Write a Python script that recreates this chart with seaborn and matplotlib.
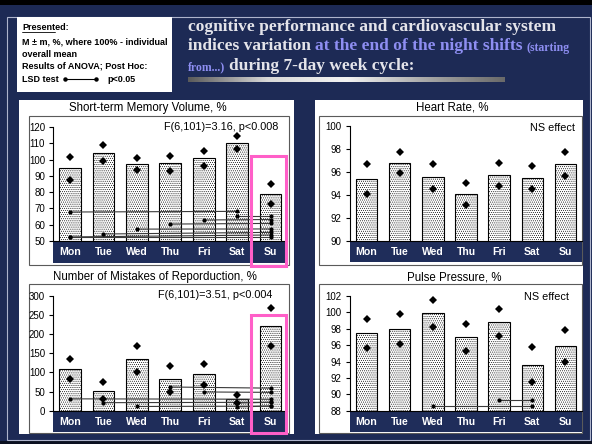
import numpy as np
import pandas as pd
import matplotlib
matplotlib.use("Agg")
import matplotlib.pyplot as plt
import seaborn as sns
from matplotlib.patches import Rectangle
from matplotlib.colors import LinearSegmentedColormap

# ---- data -------------------------------------------------------------
days = ["Mon", "Tue", "Wed", "Thu", "Fri", "Sat", "Su"]

memory_mean = [94.8, 104.0, 97.2, 97.8, 100.7, 110.2, 78.7]
memory_upper = [101.5, 109.1, 100.9, 101.9, 105.4, 114.3, 85.1]
memory_lower = [87.6, 98.9, 93.7, 93.1, 96.2, 106.7, 72.6]
# LSD-significant pairs: (day_from, value_from, day_to, value_to)
memory_lsd = [(0, 67.8, 5, 68.2), (5, 65.3, 6, 65.3), (4, 62.9, 6, 63.2),
              (3, 60.4, 6, 60.8), (2, 57.3, 6, 57.4), (1, 54.3, 6, 55.3),
              (0, 52.5, 6, 53.7), (0, 52.5, 6, 52.5)]

heart_mean = [95.33, 96.78, 95.54, 94.09, 95.74, 95.48, 96.64]
heart_upper = [96.64, 97.74, 96.64, 95.04, 96.78, 96.46, 97.74]
heart_lower = [94.09, 95.86, 94.49, 93.10, 94.75, 94.46, 95.62]
heart_lsd = []

mistakes_mean = [108, 52, 135, 82, 96, 30, 221]
mistakes_upper = [134, 76, 169, 117, 123, 41, 269]
mistakes_lower = [82, 31, 101, 48, 67, 19, 170]
mistakes_lsd = [(3, 62, 6, 59), (4, 49, 6, 48), (0, 31, 6, 30),
                (1, 21, 6, 22), (2, 11, 6, 12), (5, 10, 6, 12), (5, 20, 6, 22)]

pulse_mean = [97.44, 97.97, 99.88, 96.95, 98.78, 93.58, 95.90]
pulse_upper = [99.15, 99.80, 101.47, 98.58, 100.41, 95.81, 97.85]
pulse_lower = [95.69, 96.14, 98.26, 95.33, 97.16, 91.46, 93.90]
pulse_lsd = [(2, 88.6, 5, 88.6), (4, 89.3, 5, 89.3)]

# ---- style ------------------------------------------------------------
NAVY = "#1d2a55"
BAND = "#1f2d5a"
PINK = "#ff5fc8"
WHITE_TXT = "#e4e4ea"
BLUE_TXT = "#8e8ef2"

sns.set_theme(style="white")
plt.rcParams["font.family"] = ["Liberation Sans", "DejaVu Sans"]
plt.rcParams["hatch.color"] = "#959595"
plt.rcParams["hatch.linewidth"] = 0.4

W, H = 592, 444
fig = plt.figure(figsize=(W / 100, H / 100), dpi=100, facecolor=NAVY)

# background layer in pixel coordinates
bg = fig.add_axes([0, 0, 1, 1], zorder=-1)
bg.set_autoscale_on(False)
bg.set_xlim(0, W)
bg.set_ylim(H, 0)
bg.axis("off")

# overlay layer for highlight boxes
ov = fig.add_axes([0, 0, 1, 1], zorder=10)
ov.set_autoscale_on(False)
ov.set_xlim(0, W)
ov.set_ylim(H, 0)
ov.axis("off")
ov.patch.set_alpha(0)


def box(ax, x0, y0, x1, y1, **kw):
    ax.add_patch(Rectangle((x0, y0), x1 - x0, y1 - y0, **kw))


# slide frame and bars
box(bg, 0, 0, W, 5, color="black", lw=0)
box(bg, 0, 441, W, H, color="#0b1020", lw=0)
box(bg, 7, 17, 590, 440, fill=False, ec="#aeb4cc", lw=0.8)

# white chart columns
box(bg, 19, 100, 294, 434, color="white", lw=0)
box(bg, 315, 100, 583, 434, color="white", lw=0)

# ---- legend / notes box ----------------------------------------------
box(bg, 17, 17, 172, 92, color="white", lw=0)
note_font = dict(family=["Liberation Sans", "DejaVu Sans"],
                 fontsize=6.5, fontweight="bold", color="black", va="center", ha="left")
bg.text(22, 27, "Presented:", **note_font)
bg.plot([22, 55], [32, 32], color="black", lw=0.6)
bg.text(22, 42.5, "M \u00b1 m, %, where 100% - individual", **note_font)
bg.text(22, 54.5, "overall mean", **note_font)
bg.text(22, 66.5, "Results of ANOVA; Post Hoc:", **note_font)
bg.text(22, 79.5, "LSD test", **note_font)
bg.plot([65, 96], [79.5, 79.5], color="black", lw=0.8)
bg.plot([65, 96], [79.5, 79.5], "o", color="black", ms=2.2)
bg.text(107, 79.5, "p<0.05", **note_font)

# ---- slide heading ----------------------------------------------------
renderer = fig.canvas.get_renderer()


def chain(parts, x, y):
    for s, color, size, gap in parts:
        t = bg.text(x, y, s, family=["Liberation Serif", "DejaVu Serif"],
                    fontweight="bold", fontsize=size, color=color,
                    ha="left", va="baseline")
        x += t.get_window_extent(renderer).width + gap


chain([("cognitive performance and cardiovascular system", WHITE_TXT, 12.5, 0)], 188, 31)
chain([("indices variation", WHITE_TXT, 12.5, 4.5),
       ("at the end of the night shifts", BLUE_TXT, 12.5, 4.0),
       ("(starting", BLUE_TXT, 8.5, 0)], 188, 50.5)
chain([("from...)", BLUE_TXT, 8.5, 4.0),
       ("during 7-day week cycle:", WHITE_TXT, 12.5, 0)], 188, 70)

grad_cmap = LinearSegmentedColormap.from_list(
    "bar", ["#5a5a5a", "#d8d8d8", "#f2f2f2", "#a8a8a8", "#6a6a6a"])
bg.imshow(np.linspace(0, 1, 256)[None, :], cmap=grad_cmap, aspect="auto",
          extent=(188, 505, 82.5, 77.5), zorder=2)


# ---- chart panels -----------------------------------------------------
def panel(ext, frame, title, title_xy, means, upper, lower, ylim, yticks,
          lsd, note, note_xy):
    x0, x1, ytop, ybot = ext
    ax = fig.add_axes([x0 / W, (H - ybot) / H, (x1 - x0) / W, (ybot - ytop) / H])
    ax.patch.set_alpha(0)

    # frame, title and category band drawn on the background layer
    fx0, fy0, fx1, fy1 = frame
    box(bg, fx0, fy0, fx1, fy1, fill=False, ec="#5a5a5a", lw=0.8)
    box(bg, x0, ybot, x1, ybot + 21.5, color=BAND, lw=0)
    bg.text(title_xy[0], title_xy[1], title, fontsize=8.3, color="black",
            ha="center", va="center")
    bg.text(note_xy[0], note_xy[1], note, fontsize=7.8, color="black",
            ha="right", va="center")

    df = pd.DataFrame({"day": days, "value": means})
    sns.barplot(data=df, x="day", y="value", color="white", saturation=1,
                edgecolor="black", linewidth=0.8, width=0.65, ax=ax, zorder=2)
    for p in ax.patches:
        p.set_hatch("........")

    pos = np.arange(len(days))
    ax.plot(pos, upper, "D", color="black", ms=3.6, mew=0, zorder=4)
    ax.plot(pos, lower, "D", color="black", ms=3.6, mew=0, zorder=4)
    for i0, v0, i1, v1 in lsd:
        ax.plot([i0, i1], [v0, v1], color="#3a3a3a", lw=0.8, zorder=3)
        ax.plot([i0, i1], [v0, v1], "o", color="black", ms=3.0, mew=0, zorder=4)

    ax.set_xlim(-0.5, 6.5)
    ax.set_ylim(*ylim)
    ax.set_yticks(yticks)
    ax.set_xlabel("")
    ax.set_ylabel("")
    ax.grid(False)
    for s in ["top", "right"]:
        ax.spines[s].set_visible(False)
    for s in ["left", "bottom"]:
        ax.spines[s].set_color("black")
        ax.spines[s].set_linewidth(0.8)
    ax.tick_params(axis="y", left=True, direction="out", length=3, width=0.8,
                   labelsize=7, pad=3, colors="black")
    ax.tick_params(axis="x", bottom=False, length=0, pad=4.5, labelsize=7.6,
                   labelcolor="white")
    for t in ax.get_xticklabels():
        t.set_fontweight("bold")
    return ax


panel((53.3, 287.3, 127, 241), (29, 116, 289, 265),
      "Short-term Memory Volume, %", (148, 108),
      memory_mean, memory_upper, memory_lower, (50, 120), range(50, 121, 10),
      memory_lsd, "F(6,101)=3.16, p<0.008", (278, 126.5))

panel((350, 582, 125.7, 240.7), (319, 116, 582, 265),
      "Heart Rate, %", (452, 107),
      heart_mean, heart_upper, heart_lower, (90, 100), range(90, 101, 2),
      heart_lsd, "NS effect", (575, 128))

panel((53.3, 287.3, 296, 410.7), (29, 284, 289, 433),
      "Number of Mistakes of Reporduction, %", (155, 277),
      mistakes_mean, mistakes_upper, mistakes_lower, (0, 300), range(0, 301, 50),
      mistakes_lsd, "F(6,101)=3.51, p<0.004", (272, 295))

panel((350, 582, 296, 410.7), (319, 284, 582, 433),
      "Pulse Pressure, %", (454, 277),
      pulse_mean, pulse_upper, pulse_lower, (88, 102), range(88, 103, 2),
      pulse_lsd, "NS effect", (569, 297))

# highlighted Sunday columns
box(ov, 251, 156, 286, 266, fill=False, ec=PINK, lw=2.2)
box(ov, 251, 315, 286, 433, fill=False, ec=PINK, lw=2.2)

fig.savefig("out.png", dpi=100, facecolor=NAVY)
